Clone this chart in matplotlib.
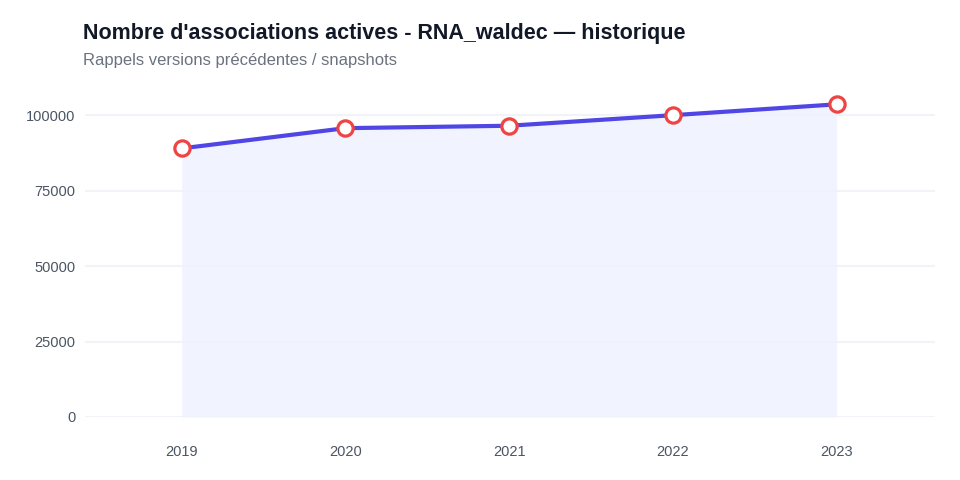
import matplotlib.pyplot as plt

# Données
annees = ['2019', '2020', '2021', '2022', '2023']
associations = [89000, 95700, 96500, 100000, 103600]

plt.rcParams['font.family'] = ['Liberation Sans', 'DejaVu Sans']

fig = plt.figure(figsize=(9.6, 4.8), dpi=100)
ax = fig.add_axes([85 / 960, 1 - 417 / 480, 850 / 960, 332 / 480])

x = list(range(len(annees)))
ax.fill_between(x, associations, 0, color='#eef2ff', alpha=0.8, linewidth=0)
ax.plot(x, associations, color='#4f46e5', linewidth=3, zorder=3,
        marker='o', markersize=11, markerfacecolor='white',
        markeredgecolor='#ef4444', markeredgewidth=2.3)

ax.set_xlim(-0.59, 4.6)
ax.set_ylim(0, 110000)
ax.set_xticks(x)
ax.set_xticklabels(annees)
ax.set_yticks([0, 25000, 50000, 75000, 100000])
ax.tick_params(axis='both', length=0, labelsize=10.5, colors='#4b5563')
ax.tick_params(axis='x', pad=20)
ax.tick_params(axis='y', pad=7)
ax.grid(axis='y', color='#f2f3f8', linewidth=1.5)
ax.set_axisbelow(True)
for s in ax.spines.values():
    s.set_visible(False)

fig.text(83 / 960, 1 - 33 / 480, "Nombre d'associations actives - RNA_waldec \u2014 historique",
         fontsize=15.5, fontweight='bold', color='#111827', va='center')
fig.text(83 / 960, 1 - 61 / 480, 'Rappels versions précédentes / snapshots',
         fontsize=12, color='#6b7280', va='center')

plt.savefig('out.png')
